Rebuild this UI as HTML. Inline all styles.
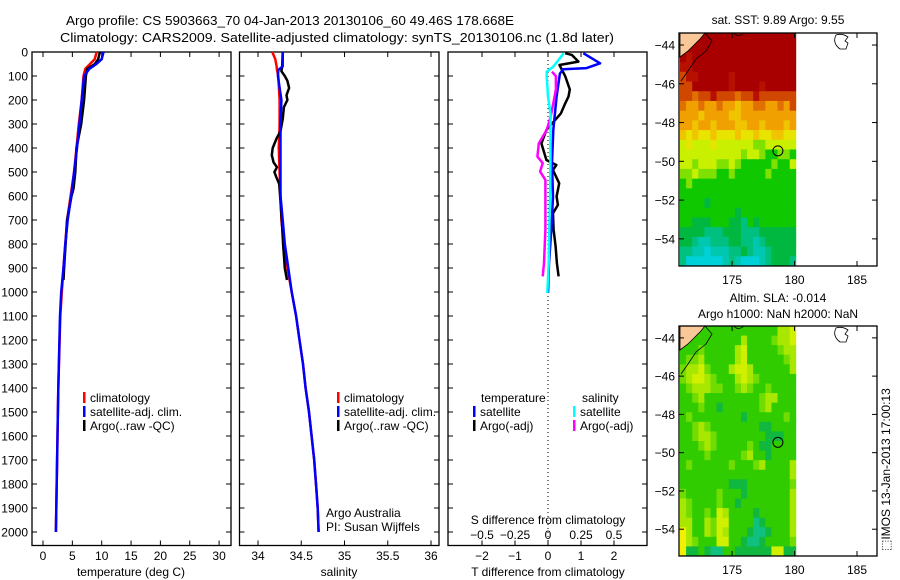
<!DOCTYPE html>
<html><head><meta charset="utf-8">
<style>
html,body{margin:0;padding:0;background:#fff;}
svg{display:block;font-family:"Liberation Sans",sans-serif;}
</style></head>
<body>
<svg id="fig" width="900" height="580" viewBox="0 0 900 580" xmlns="http://www.w3.org/2000/svg">
<text x="66" y="25" font-size="13" textLength="448" lengthAdjust="spacingAndGlyphs">Argo profile: CS 5903663_70 04-Jan-2013 20130106_60 49.46S 178.668E</text>
<text x="60" y="42" font-size="13" textLength="554" lengthAdjust="spacingAndGlyphs">Climatology: CARS2009. Satellite-adjusted climatology: synTS_20130106.nc (1.8d later)</text>
<g id="g"></g>
<text transform="translate(890,551) rotate(-90)" font-size="12">⬚IMOS 13-Jan-2013 17:00:13</text>
</svg>
<script>
// ---- data ----
const tempDepths = [0,30,50,70,100,200,300,400,500,600,700,800,900,1000,1100,1400,1700,2000];
const tempClim   = [9.15,8.8,8.0,7.2,6.9,6.6,6.1,5.7,5.3,4.7,4.1,3.8,3.5,3.2,2.95,2.6,2.4,2.2];
const tempSat    = [10.3,10.0,9.1,7.9,7.0,6.6,6.2,5.8,5.3,4.8,4.2,3.8,3.5,3.1,2.9,2.6,2.4,2.2];
const argoTempDepths = [0,30,50,70,100,200,300,400,450,500,570,600,700,800,900,950];
const argoTemp   = [9.7,9.4,8.85,7.55,7.3,7.0,6.5,5.7,5.6,5.5,5.2,4.85,4.1,3.85,3.6,3.5];
const salDepths  = [0,30,60,75,100,200,300,400,500,600,700,800,900,1000,1100,1200,1300,1400,1500,1600,1700,1800,1900,2000];
const salClim    = [34.165,34.20,34.215,34.22,34.235,34.25,34.25,34.24,34.25,34.26,34.27,34.30,34.34,34.39,34.44,34.48,34.52,34.55,34.59,34.62,34.65,34.67,34.69,34.70];
const salSat     = [34.285,34.285,34.285,34.235,34.23,34.27,34.26,34.26,34.26,34.26,34.285,34.31,34.35,34.39,34.44,34.48,34.52,34.55,34.59,34.62,34.65,34.67,34.69,34.70];
const argoSalDepths = [0,60,80,100,120,150,180,200,230,280,330,360,400,430,460,480,500,520,550,600,700,800,900,950];
const argoSal    = [34.285,34.28,34.27,34.31,34.34,34.36,34.33,34.34,34.30,34.285,34.26,34.215,34.17,34.16,34.18,34.22,34.19,34.21,34.245,34.255,34.275,34.29,34.31,34.335];
const dTSatDepths = [5,47,67,72,90,186,325,463,602,740,880,1004];
const dTSat      = [1.07,1.58,1.17,0.46,0.36,0.26,0.16,0.12,0.15,0.10,0.03,0.0];
const dTArgoDepths = [5,12,40,54,101,156,186,214,256,325,381,450,471,492,547,602,637,672,740,810,880,935];
const dTArgo     = [0.52,0.72,0.92,0.35,0.52,0.66,0.62,0.52,0.39,-0.05,-0.2,-0.05,0.25,0.15,0.34,0.26,0.3,0.15,0.17,0.23,0.27,0.32];
const dSSatDepths = [5,61,82,101,186,260,463,602,740,880,1004];
const dSSat      = [0.12,0.04,-0.01,-0.01,0.0,0.02,0.018,0.015,0.01,0.005,-0.005];
const dSArgoDepths = [82,101,156,214,270,325,381,436,463,498,533,602,740,880,935];
const dSArgo     = [0.03,0.06,0.06,0.04,0.02,-0.01,-0.07,-0.08,-0.04,-0.06,-0.02,-0.02,-0.02,-0.03,-0.04];
const depthTicks = [0,100,200,300,400,500,600,700,800,900,1000,1100,1200,1300,1400,1500,1600,1700,1800,1900,2000];
const tempTicks  = [0,5,10,15,20,25,30];
const salTicks   = [34,34.5,35,35.5,36];
const salTickLabels = ["34","34.5","35","35.5","36"];
const dTTicks    = [-2,-1,0,1,2];
const dSTicks    = [-0.5,-0.25,0,0.25,0.5];
const dSTickLabels = ["−0.5","−0.25","0","0.25","0.5"];
const lonTicks   = [175,180,185];
const latTicks   = [-44,-46,-48,-50,-52,-54];
const sstRows = [
"RRRRRRRRRRRRRRRRRRR","RRRRRRRRRRRRRRRRRRR","RrRRRRRRRRRRRRRRRRR","rrRRRRRRRRRRRRRRRRR","orrRRRRRrRRRRRRRRRR",
"ooRRRRRRrRRRRrRRRRR","ooOooroooOooroooooo","OaaOaaOaayaaOOaaOao","aaayaaaayyaaaaaaaaa","aayaayaaayyaayaaaya",
"yYyYYyYYYyYYyYYyyYY","lYlllYllllllgglllll","llllllllllgllgGGggG","llglllgglgGGGGGgGGl","gglgggGGgGGGGGgGGGG",
"GgGGGGGGGGGGGGGGGGG","GGGGGGGGGGGGGGGGGGG","GGGGhGGGGGGGGGGGGGG","GGGGGGGGGhGGGGGGGGG","GGhhhGGGhhtGhGGGGGG",
"hhhhttthhhttthhhhhh","hhtccttthhttcthhhhh","ttccCccctthtccthhhh","tCCCCCCctcCCCcthhht"];
const slaRows = [
"GGGGGGGGGGGGGGGGlly","GGGGGGGGGGlGGGGglly","GGGgGGGGGlyGGGGGgll","GgglGGGGGlyGGGGGGgl","gllygGGGlyylGGGGGGl",
"glyylgGGGlylgGGGGGG","GglllggGGglgGGgGGGG","GGglGGGGGGGGGgllGGG","GGGgGGhGGGGGGglGGGG","GgGGGGGGGGhGGGGGGgG",
"GGglgGGGGGGGGhhGGGG","GGgllgGGGGGGGGhhhGG","GGGglgGGGGGgGhhGGGG","GGGGgGGGGGglGGhGGGG","GgGGGGGGgGGGglGGGGl",
"GGGGGGGGGGGGGGGGGGl","GGGGGGGGhhhGGGGGGGg","gGGGGGgGGGhGGGGGGGl","lgGGGGgGGhGGGGGGGGl","lgGGgGylGGGGhGGGGGl",
"llGGlgyyGGGGthGGGGl","YlGGlgylGGGhtthGGGl","YlgGGGyyGGhtthGGGGg","YhhGhttGGhhhhhhyyhh"];
const argoLon = 178.668, argoLat = -49.46;

// ---- helpers ----
const NS="http://www.w3.org/2000/svg";
const G=document.getElementById('g');
function mk(tag,attrs,parent){const e=document.createElementNS(NS,tag);for(const k in attrs)e.setAttribute(k,attrs[k]);(parent||G).appendChild(e);return e;}
function txt(x,y,s,anchor,size,parent){const t=mk('text',{x:x,y:y,'font-size':size||12,'text-anchor':anchor||'start'},parent);t.textContent=s;return t;}
const yD=d=>52+0.24*d;
const PT=52,PB=545.5;

function panel(name,x0,x1){
  const r=mk('rect',{x:x0,y:PT,width:x1-x0,height:PB-PT,fill:'none',stroke:'#000','stroke-width':1.3});
  
  
  depthTicks.forEach(d=>{
    mk('line',{x1:x0,x2:x0+5,y1:yD(d),y2:yD(d),stroke:'#000'});
    mk('line',{x1:x1,x2:x1-5,y1:yD(d),y2:yD(d),stroke:'#000'});
  });
}
function xticks(xs,fx,labels,ly){
  xs.forEach((v,i)=>{
    const x=fx(v);
    mk('line',{x1:x,x2:x,y1:PB,y2:PB-5,stroke:'#000'});
    mk('line',{x1:x,x2:x,y1:PT,y2:PT+5,stroke:'#000'});
    if(labels){const t=txt(x,ly,labels[i],'middle',12);
      
      }
  });
}
function line(depths,vals,fx,color,name){
  const pts=depths.map((d,i)=>fx(vals[i]).toFixed(1)+','+yD(d).toFixed(1)).join(' ');
  const p=mk('polyline',{points:pts,fill:'none',stroke:color,'stroke-width':2.5,'stroke-linejoin':'round'});
  
  
}
function legend(x,y,color,label){
  const b=mk('rect',{x:x,y:y-10,width:2.5,height:11,fill:color});
  
  
  const t=txt(x+7,y,label,'start',12);
  
  
}

// ---- panel 1: temperature ----
const fT=t=>43+5.87*t;
panel('temperature-panel',32,231);
depthTicks.forEach(d=>{const t=txt(28,yD(d)+4.5,String(d),'end',12);
  
  });
xticks(tempTicks,fT,tempTicks.map(String),560);
line(tempDepths,tempClim,fT,'#f00','temp-climatology-line');
line(argoTempDepths,argoTemp,fT,'#000','temp-argo-line');
line(tempDepths,tempSat,fT,'#00f','temp-satellite-line');
{const t=txt(131,576,'temperature (deg C)','middle',12);}
legend(83,402,'#f00','climatology');legend(83,416,'#00f','satellite-adj. clim.');legend(83,430,'#000','Argo(..raw -QC)');

// ---- panel 2: salinity ----
const fS=s=>258+86.5*(s-34);
panel('salinity-panel',239.5,439);
xticks(salTicks,fS,salTickLabels,560);
line(salDepths,salClim,fS,'#f00','sal-climatology-line');
line(argoSalDepths,argoSal,fS,'#000','sal-argo-line');
line(salDepths,salSat,fS,'#00f','sal-satellite-line');
{const t=txt(339,576,'salinity','middle',12);}
legend(337,402,'#f00','climatology');legend(337,416,'#00f','satellite-adj. clim.');legend(337,430,'#000','Argo(..raw -QC)');
txt(326,517,'Argo Australia','start',12);
txt(326,531,'PI: Susan Wijffels','start',12);

// ---- panel 3: differences ----
const fdT=v=>548+33*v, fdS=v=>548+132*v;
panel('difference-panel',448,647);
mk('line',{x1:548,x2:548,y1:PT,y2:PB,stroke:'#000','stroke-dasharray':'1,3'});
xticks(dTTicks,fdT,dTTicks.map(v=>v<0?'−'+(-v):String(v)),560);
dSTicks.forEach((v,i)=>{const t=txt(fdS(v),539,dSTickLabels[i],'middle',12);
  
  });
txt(548,524,'S difference from climatology','middle',12);
txt(548,576,'T difference from climatology','middle',12);
line(dTArgoDepths,dTArgo,fdT,'#000','dT-argo-line');
line(dTSatDepths,dTSat,fdT,'#00f','dT-satellite-line');
line(dSArgoDepths,dSArgo,fdS,'#f0f','dS-argo-line');
line(dSSatDepths,dSSat,fdS,'#0ff','dS-satellite-line');
txt(481,402,'temperature','start',12);
txt(582,402,'salinity','start',12);
legend(473,416,'#00f','satellite');legend(473,430,'#000','Argo(-adj)');
legend(573,416,'#0ff','satellite');legend(573,430,'#f0f','Argo(-adj)');

// ---- maps ----
const sstCol={R:'#a80000',r:'#b81000',o:'#d04800',O:'#e07000',a:'#f0a000',y:'#f0c400',Y:'#e8e400',l:'#c8f000',g:'#80e000',G:'#10c800',h:'#00b840',t:'#00c080',c:'#00c8b0',C:'#00d0d8'};
const slaCol={G:'#30cc00',g:'#70dc00',l:'#a8e800',y:'#d0f000',Y:'#f0f000',h:'#10b840',t:'#10c080'};
function map(name,top,bot,rows,cols,title1,title2){
  const L=679,R=877,lon0=170.75,lon1=186.6,lat0=-43.38,lat1=-55.4;
  const fx=lo=>L+(lo-lon0)*(R-L)/(lon1-lon0);
  const fy=la=>top+(la-lat0)*(bot-top)/(lat1-lat0);
  const g=mk('g',{});
  
  
  const xr=fx(180.1),cw=(xr-680)/19,rh=(bot-top)/rows.length;
  rows.forEach((row,ri)=>{for(let ci=0;ci<row.length;ci++){
    mk('rect',{x:(680+ci*cw).toFixed(2),y:(top+ri*rh).toFixed(2),width:(cw+0.4).toFixed(2),height:(rh+0.4).toFixed(2),fill:cols[row[ci]]},g);
  }});
  // land + coast
  mk('path',{d:`M680 ${top} L705 ${top} L700 ${top+6} L694 ${top+12} L688 ${top+18} L680 ${top+24} Z`,fill:'#f8c898',stroke:'#000','stroke-width':0.8},g);
  mk('path',{d:`M705 ${top} L712 ${top+8} L706 ${top+18} L696 ${top+26} L688 ${top+38} L681 ${top+48}`,fill:'none',stroke:'#000','stroke-width':0.8},g);
  mk('path',{d:`M734 ${top} Q738 ${top+5} 744 ${top}`,fill:'none',stroke:'#000','stroke-width':0.8},g);
  mk('path',{d:`M836 ${top+2} Q832 ${top+10} 840 ${top+16} L846 ${top+16} L848 ${top+10} L845 ${top+8} L848 ${top+4} Q842 ${top} 836 ${top+2}Z`,fill:'#fff',stroke:'#000','stroke-width':0.8},g);
  const c=mk('circle',{cx:fx(argoLon),cy:fy(argoLat),r:5,fill:'none',stroke:'#000','stroke-width':1},g);
  
  
  mk('rect',{x:L,y:top,width:R-L,height:bot-top,fill:'none',stroke:'#000','stroke-width':1.3},g);
  lonTicks.forEach(v=>{const x=fx(v);
    mk('line',{x1:x,x2:x,y1:bot,y2:bot-5,stroke:'#000'},g);mk('line',{x1:x,x2:x,y1:top,y2:top+5,stroke:'#000'},g);
    const t=txt(x,bot+18,String(v),'middle',12,g);});
  latTicks.forEach(v=>{const y=fy(v);
    mk('line',{x1:L,x2:L+5,y1:y,y2:y,stroke:'#000'},g);mk('line',{x1:R,x2:R-5,y1:y,y2:y,stroke:'#000'},g);
    const t=txt(L-4,y+4.5,'−'+(-v),'end',12,g);});
  if(title2){txt(778,top-24,title1,'middle',12,g);txt(778,top-8,title2,'middle',12,g);}
  else txt(778,top-9,title1,'middle',12,g);
}
map('sst-map',33,266,sstRows,sstCol,'sat. SST: 9.89 Argo: 9.55');
map('sla-map',326,556,slaRows,slaCol,'Altim. SLA: -0.014','Argo h1000: NaN h2000: NaN');
</script>
</body></html>
